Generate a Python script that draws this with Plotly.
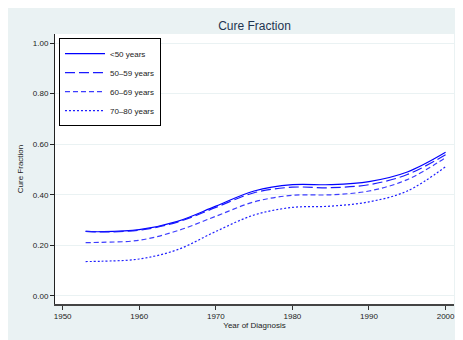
import plotly.graph_objects as go

years = [1953, 1955, 1960, 1965, 1970, 1975, 1980, 1985, 1990, 1995, 2000]
cf_lt50 = [0.255, 0.254, 0.262, 0.295, 0.355, 0.415, 0.440, 0.440, 0.452, 0.490, 0.568]
cf_50_59 = [0.255, 0.253, 0.260, 0.292, 0.350, 0.408, 0.430, 0.428, 0.440, 0.480, 0.558]
cf_60_69 = [0.211, 0.212, 0.220, 0.258, 0.315, 0.372, 0.398, 0.400, 0.415, 0.460, 0.547]
cf_70_80 = [0.136, 0.137, 0.146, 0.183, 0.255, 0.320, 0.350, 0.355, 0.372, 0.415, 0.511]
series_names = ["<50 years", "50\u201359 years", "60\u201369 years", "70\u201380 years"]
y_ticks = [0.0, 0.2, 0.4, 0.6, 0.8, 1.0]
x_ticks = [1950, 1960, 1970, 1980, 1990, 2000]

BG = "#eaf2f3"
FONT = "Liberation Sans, Arial, sans-serif"

styles = [
    dict(color="#0000ff", dash="solid"),
    dict(color="#1a1aff", dash="10px,4px"),
    dict(color="#3c3cff", dash="5px,3px"),
    dict(color="#2020ff", dash="2px,2px"),
]

fig = go.Figure()
for name, vals, st in zip(series_names, [cf_lt50, cf_50_59, cf_60_69, cf_70_80], styles):
    fig.add_trace(go.Scatter(
        x=years, y=vals, mode="lines", name=name,
        line=dict(color=st["color"], dash=st["dash"], width=1.2, shape="spline", smoothing=1.0),
    ))

fig.update_layout(
    width=463, height=340,
    margin=dict(l=47, r=17, t=26, b=44),
    paper_bgcolor=BG,
    plot_bgcolor="white",
    font=dict(family=FONT, size=8, color="#222222"),
    title=dict(text="Cure Fraction", x=0.5, xref="paper", xanchor="center",
               y=1 - 18 / 340, yanchor="middle",
               font=dict(family=FONT, size=12, color="#1e3450")),
    showlegend=True,
    legend=dict(x=0.01, y=0.985, xanchor="left", yanchor="top",
                bgcolor="white", bordercolor="black", borderwidth=1,
                font=dict(family=FONT, size=8, color="#222222"),
                tracegroupgap=0, itemwidth=40),
)

fig.update_xaxes(
    range=[1949.0, 2001.1], tickvals=x_ticks, ticktext=[str(t) for t in x_ticks],
    ticks="outside", ticklen=4, tickcolor="#333333", tickwidth=1,
    showline=True, linecolor="#444444", linewidth=1.5, showgrid=False, zeroline=False,
    automargin=False,
    title=dict(text="Year of Diagnosis", font=dict(family=FONT, size=8, color="#222222"), standoff=2),
)
fig.update_yaxes(
    range=[-0.032, 1.036], tickvals=y_ticks, ticktext=["%.2f" % v for v in y_ticks],
    ticks="outside", ticklen=4, tickcolor="#222222", tickwidth=1,
    showline=True, linecolor="#222222", linewidth=1, showgrid=True, gridcolor=BG, gridwidth=1,
    zeroline=False, automargin=False,
    title=dict(text="Cure Fraction", font=dict(family=FONT, size=8, color="#222222"), standoff=8),
)

fig.write_html("out.html")
